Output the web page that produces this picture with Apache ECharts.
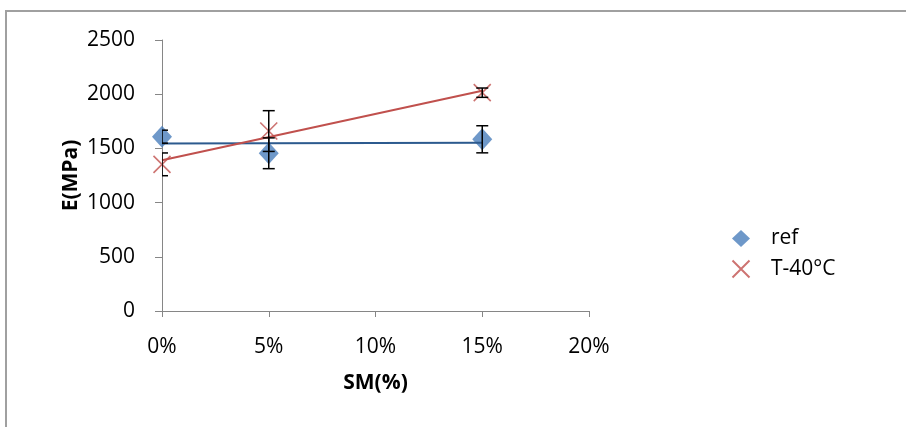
<!DOCTYPE html>
<html><head><meta charset="utf-8">
<script src="https://cdn.jsdelivr.net/npm/echarts@6/dist/echarts.min.js"></script>
<style>html,body{margin:0;padding:0;background:#fff}#c{width:906px;height:427px}</style>
</head><body><div id="c"></div>
<script>
const xValues = [0, 5, 15];
const refValues = [1608, 1455, 1584];
const refErr = [60, 142, 125];
const tValues = [1353, 1660, 2014];
const tErr = [105, 188, 43];
const seriesNames = ['ref', 'T-40°C'];
const xAxisName = 'SM(%)';
const yAxisName = 'E(MPa)';

const FONT = 'Open Sans';
const FS = 21;
const crossPath = 'path://M0,0L10,10M10,0L0,10';

function pts(vals){ return xValues.map((x,i)=>[x, vals[i]]); }
function errData(vals, errs){ return xValues.map((x,i)=>[x, vals[i]-errs[i], vals[i]+errs[i]]); }
function trend(vals){
  const n = xValues.length;
  const mx = xValues.reduce((a,b)=>a+b,0)/n;
  const my = vals.reduce((a,b)=>a+b,0)/n;
  let sxy=0, sxx=0;
  for(let i=0;i<n;i++){ sxy += (xValues[i]-mx)*(vals[i]-my); sxx += (xValues[i]-mx)**2; }
  const b = sxy/sxx, a = my - b*mx;
  const x0 = Math.min(...xValues), x1 = Math.max(...xValues);
  return [[x0, a+b*x0],[x1, a+b*x1]];
}
function errRender(params, api){
  const x = api.value(0), lo = api.value(1), hi = api.value(2);
  const pLo = api.coord([x, lo]), pHi = api.coord([x, hi]);
  const w = 6;
  const style = {stroke:'#000', lineWidth:1.5};
  const cs = params.coordSys;
  return {type:'group',
    clipPath:{type:'rect', shape:{x:cs.x, y:cs.y-20, width:cs.width, height:cs.height+20}},
    children:[
    {type:'line', shape:{x1:pLo[0],y1:pLo[1],x2:pHi[0],y2:pHi[1]}, style},
    {type:'line', shape:{x1:pLo[0]-w,y1:pLo[1],x2:pLo[0]+w,y2:pLo[1]}, style},
    {type:'line', shape:{x1:pHi[0]-w,y1:pHi[1],x2:pHi[0]+w,y2:pHi[1]}, style}
  ]};
}

const chart = echarts.init(document.getElementById('c'), null, {renderer:'canvas'});
chart.setOption({
  backgroundColor:'#fff',
  animation:false,
  textStyle:{fontFamily:FONT},
  graphic:[{type:'rect', shape:{x:6, y:11, width:1000, height:1000}, style:{fill:'none', stroke:'#a0a0a0', lineWidth:2}, z:-1}],
  grid:{left:162, right:317, top:40, bottom:116},
  legend:{
    orient:'vertical', left:725, top:223, itemWidth:18, itemHeight:17, itemGap:9,
    textStyle:{fontFamily:FONT, fontSize:FS, color:'#000', padding:[0,0,0,16]},
    data:[{name:seriesNames[0], icon:'diamond'},{name:seriesNames[1], icon:crossPath}]
  },
  xAxis:{
    type:'value', min:0, max:20, interval:5,
    name:xAxisName, nameLocation:'middle', nameGap:62, nameMoveOverlap:false,
    nameTextStyle:{fontFamily:FONT, fontSize:FS, fontWeight:'bold', color:'#000'},
    axisLine:{lineStyle:{color:'#868686', width:1}},
    axisTick:{show:true, inside:false, length:6, lineStyle:{color:'#868686'}},
    axisLabel:{formatter:'{value}%', fontFamily:FONT, fontSize:FS, color:'#000', margin:26},
    splitLine:{show:false}
  },
  yAxis:{
    type:'value', min:0, max:2500, interval:500,
    name:yAxisName, nameLocation:'middle', nameGap:80, nameRotate:90, nameMoveOverlap:false,
    nameTextStyle:{fontFamily:FONT, fontSize:FS, fontWeight:'bold', color:'#000'},
    axisLine:{show:true, lineStyle:{color:'#868686', width:1}},
    axisTick:{show:true, inside:false, length:7, lineStyle:{color:'#868686'}},
    axisLabel:{formatter:(v)=>String(v), fontFamily:FONT, fontSize:FS, color:'#000', margin:27},
    splitLine:{show:false}
  },
  series:[
    {name:seriesNames[0], type:'scatter', data:pts(refValues), symbol:'diamond', symbolSize:[20,22],
     itemStyle:{color:'#4A7EBB'}, z:2},
    {name:seriesNames[1], type:'scatter', data:pts(tValues), symbol:crossPath, symbolSize:17,
     itemStyle:{color:'none', borderColor:'#C0504D', borderWidth:1.6}, z:2},
    {name:'refTrend', type:'line', data:trend(refValues), showSymbol:false, symbol:'none',
     lineStyle:{color:'#2C5A8E', width:2}, z:3},
    {name:'tTrend', type:'line', data:trend(tValues), showSymbol:false, symbol:'none',
     lineStyle:{color:'#C0504D', width:2}, z:3},
    {name:'refErr', type:'custom', renderItem:errRender, data:errData(refValues, refErr), z:4},
    {name:'tErr', type:'custom', renderItem:errRender, data:errData(tValues, tErr), z:4}
  ]
});
</script></body></html>
